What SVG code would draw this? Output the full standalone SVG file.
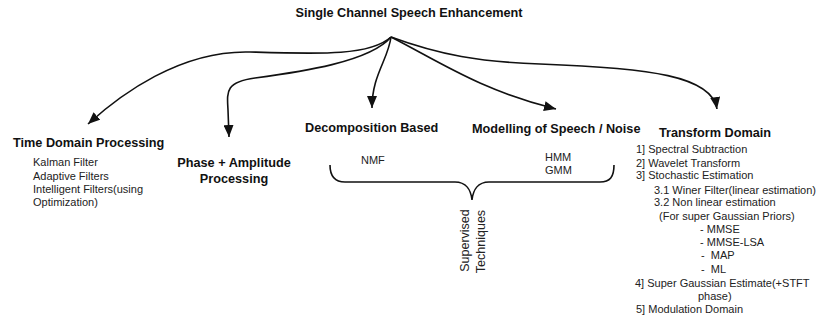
<svg xmlns="http://www.w3.org/2000/svg" width="819" height="322" viewBox="0 0 819 322">
<defs>
<style>
text{font-family:"Liberation Sans",Arial,sans-serif;}
.h{font-size:12.7px;font-weight:bold;fill:#111;}
.b{font-size:11px;fill:#222;}
.c{fill:none;stroke:#111;stroke-width:1.6;}
</style>
<marker id="ah" viewBox="0 0 12 10" refX="12" refY="5" markerWidth="12" markerHeight="10" markerUnits="userSpaceOnUse" orient="auto">
<path d="M0,0 L12,5 L0,10 Z" fill="#111"/>
</marker>
</defs>
<rect width="819" height="322" fill="#fff"/>
<g id="connectors">
<path class="c" marker-end="url(#ah)" d="M391,37 C370,56 320,54 250,52 C180,50 120,95 88,124"/>
<path class="c" marker-end="url(#ah)" d="M391,37 C370,62 300,72 255,78 C225,82 227,92 228,110 L229,137"/>
<path class="c" marker-end="url(#ah)" d="M391,37 C388,60 372,75 372,108"/>
<path class="c" marker-end="url(#ah)" d="M391,37 C440,62 480,90 556,109"/>
<path class="c" marker-end="url(#ah)" d="M391,37 C440,55 480,62 540,64 C650,68 712,76 717,109"/>
</g>
<g id="root">
<text class="h" x="409" y="17" text-anchor="middle">Single Channel Speech Enhancement</text>
</g>
<g id="time-domain">
<text class="h" x="13" y="147">Time Domain Processing</text>
<text class="b" x="33" y="166">Kalman Filter</text>
<text class="b" x="33" y="180">Adaptive Filters</text>
<text class="b" x="33" y="193">Intelligent Filters(using</text>
<text class="b" x="33" y="206">Optimization)</text>
</g>
<g id="phase-amplitude">
<text class="h" x="234" y="167" text-anchor="middle">Phase + Amplitude</text>
<text class="h" x="234" y="183" text-anchor="middle">Processing</text>
</g>
<g id="decomposition">
<text class="h" x="305" y="132">Decomposition Based</text>
<text class="b" x="361" y="164">NMF</text>
</g>
<g id="modelling">
<text class="h" x="472" y="133">Modelling of Speech / Noise</text>
<text class="b" x="545" y="161">HMM</text>
<text class="b" x="545" y="174">GMM</text>
</g>
<g id="supervised">
<path class="c" d="M330,165 C330,177 335,182 345,182 L455,182 C466,182 471,190 472,200 C473,190 478,182 489,182 L600,182 C610,182 614,177 614,165"/>
<text transform="translate(469,240.5) rotate(-90)" text-anchor="middle" style="font-size:12.5px;fill:#222;">Supervised</text>
<text transform="translate(485,241.5) rotate(-90)" text-anchor="middle" style="font-size:12.5px;fill:#222;">Techniques</text>
</g>
<g id="transform-domain">
<text class="h" x="659" y="137">Transform Domain</text>
<text class="b" x="636" y="153">1] Spectral Subtraction</text>
<text class="b" x="636" y="167">2] Wavelet Transform</text>
<text class="b" x="636" y="179">3] Stochastic Estimation</text>
<text class="b" x="654" y="194">3.1 Winer Filter(linear estimation)</text>
<text class="b" x="654" y="206">3.2 Non linear estimation</text>
<text class="b" x="659" y="220">(For super Gaussian Priors)</text>
<text class="b" x="700" y="233">- MMSE</text>
<text class="b" x="700" y="246">- MMSE-LSA</text>
<text class="b" x="701" y="259" xml:space="preserve">-  MAP</text>
<text class="b" x="701" y="273" xml:space="preserve">-  ML</text>
<text class="b" x="635" y="287">4] Super Gaussian Estimate(+STFT</text>
<text class="b" x="698" y="300">phase)</text>
<text class="b" x="636" y="313">5] Modulation Domain</text>
</g>
</svg>
